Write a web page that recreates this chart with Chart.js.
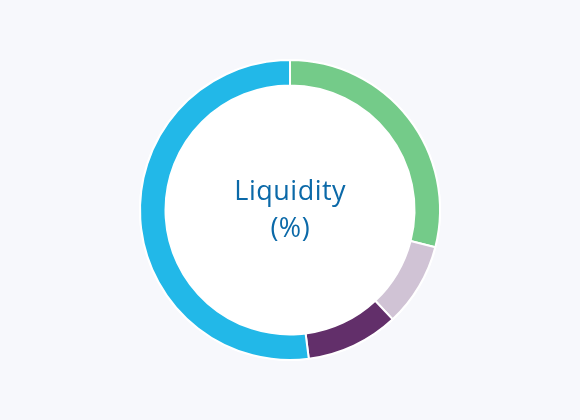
<!DOCTYPE html>
<html><head><meta charset="utf-8">
<script src="https://cdn.jsdelivr.net/npm/chart.js@4"></script>
<style>
html,body{margin:0;padding:0;background:#f7f8fc;}
#wrap{position:relative;width:580px;height:420px;}
#center{position:absolute;left:0;width:580px;text-align:center;top:171px;font-family:"Open Sans",sans-serif;font-size:27px;line-height:37px;color:#0b69a8;letter-spacing:0.5px;padding-left:0.5px;box-sizing:border-box;}
</style></head>
<body>
<div id="wrap"><canvas id="c" width="580" height="420"></canvas>
<div id="center">Liquidity<br>(%)</div></div>
<script>
const categories = ["Cash", "Short-term", "Medium-term", "Long-term"];
const values = [29, 9, 10, 52];
const colors = ["#74cb89", "#d0c3d5", "#622f6a", "#22b8e8"];
const centerFill = {
  id: 'centerFill',
  beforeDatasetsDraw(chart){
    const arc = chart.getDatasetMeta(0).data[0];
    if(!arc) return;
    const ctx = chart.ctx;
    ctx.save();
    ctx.beginPath();
    ctx.arc(arc.x, arc.y, arc.outerRadius + 1, 0, Math.PI*2);
    ctx.fillStyle = '#ffffff';
    ctx.fill();
    ctx.restore();
  }
};
new Chart(document.getElementById('c'), {
  type: 'doughnut',
  data: { labels: categories, datasets: [{ data: values, backgroundColor: colors, borderColor: '#ffffff', borderWidth: 2 }] },
  options: {
    responsive: false, animation: false, cutout: '83%',
    layout: { padding: { top: 59, bottom: 59 } },
    plugins: { legend: { display: false }, tooltip: { enabled: false } }
  },
  plugins: [centerFill]
});
</script>
</body></html>
